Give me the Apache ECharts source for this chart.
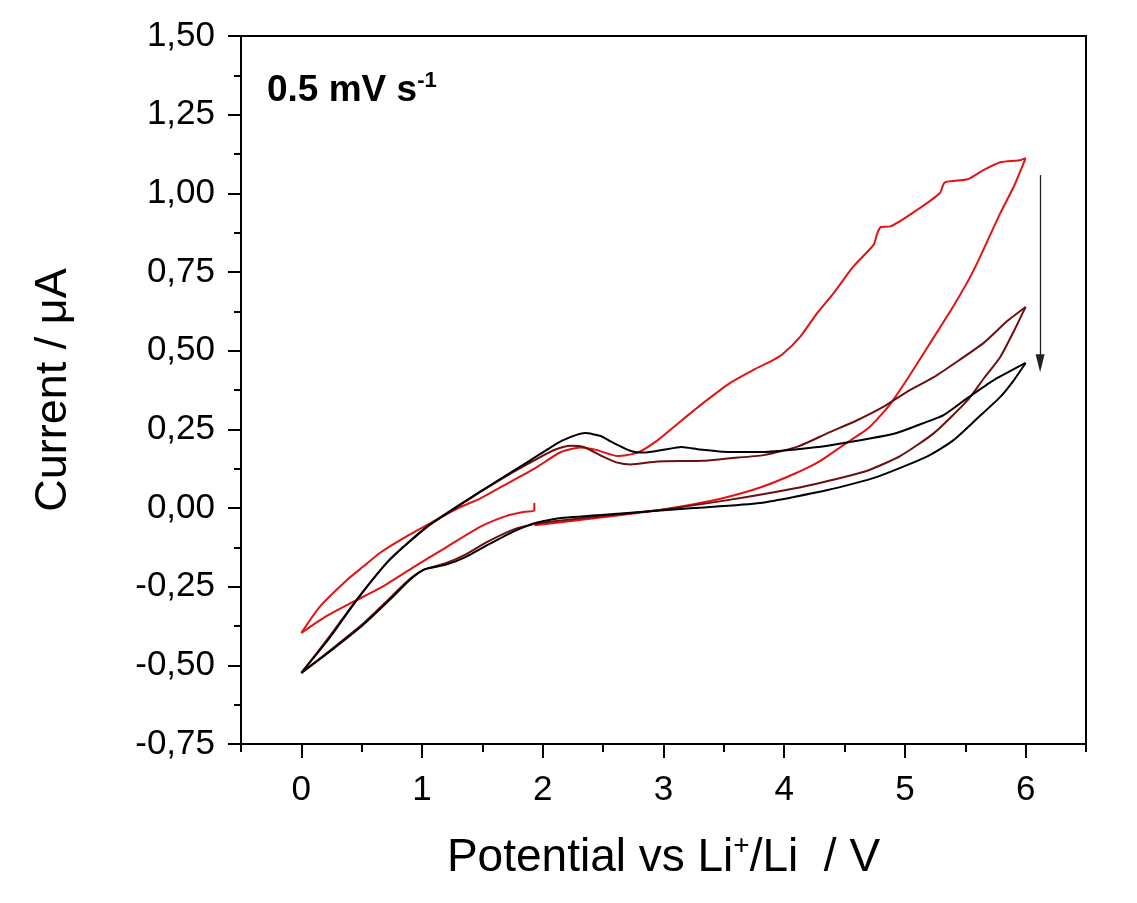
<!DOCTYPE html>
<html lang="en">
<head>
    <meta charset="UTF-8">
    <title>CV 0.5 mV/s</title>
    <script src="https://cdn.jsdelivr.net/npm/echarts@6/dist/echarts.min.js"></script>
    <style>
        html, body { margin: 0; padding: 0; background: #fff; }
        #main { width: 1137px; height: 903px; }
    </style>
</head>
<body>
    <div id="main"></div>
    <script type="text/javascript">
        // axis ticks
        var xMajor = [0, 1, 2, 3, 4, 5, 6];

        // cycle 1 (red): OCV -> 0 V, 0 -> 6 V, 6 V -> OCV
        var red1Down = [[1.93, 0.016], [1.93, -0.008], [1.85, -0.012], [1.70, -0.025], [1.48, -0.060], [1.20, -0.125],
            [0.93, -0.188], [0.65, -0.255], [0.42, -0.300], [0.20, -0.345], [0, -0.397]];
        var red1Up = [[0, -0.397], [0.15, -0.315], [0.38, -0.228], [0.51, -0.187], [0.65, -0.143], [0.85, -0.095],
            [1.07, -0.048], [1.30, 0.0], [1.48, 0.03], [1.67, 0.07], [1.93, 0.125], [2.15, 0.178], [2.31, 0.192],
            [2.45, 0.184], [2.62, 0.165], [2.78, 0.175], [2.95, 0.215], [3.14, 0.275], [3.33, 0.334], [3.55, 0.397],
            [3.75, 0.440], [3.90, 0.468], [3.99, 0.490], [4.13, 0.543], [4.27, 0.618], [4.41, 0.683], [4.57, 0.766],
            [4.74, 0.836], [4.77, 0.872], [4.80, 0.893], [4.88, 0.895], [5.10, 0.947], [5.29, 1.001], [5.33, 1.035],
            [5.52, 1.045], [5.65, 1.074], [5.79, 1.099], [5.95, 1.105], [6, 1.112]];
        var red1Back = [[6, 1.112], [5.90, 1.02], [5.79, 0.937], [5.57, 0.756], [5.40, 0.64], [5.24, 0.543],
            [5.02, 0.410], [4.86, 0.321], [4.70, 0.255], [4.49, 0.200], [4.30, 0.150], [4.08, 0.108], [3.80, 0.065],
            [3.53, 0.035], [3.25, 0.012], [2.97, -0.006], [2.60, -0.025], [2.15, -0.045], [1.93, -0.055]];

        // cycle 2 (dark red)
        var dark2Down = [[1.93, -0.050], [1.76, -0.068], [1.54, -0.108], [1.35, -0.150], [1.20, -0.175], [1.02, -0.195],
            [0.90, -0.225], [0.75, -0.280], [0.51, -0.368], [0.24, -0.452], [0, -0.524]];
        var dark2Up = [[0, -0.524], [0.24, -0.405], [0.46, -0.290], [0.73, -0.165], [1.04, -0.060], [1.29, 0.003],
            [1.48, 0.050], [1.75, 0.113], [1.96, 0.158], [2.10, 0.185], [2.23, 0.198], [2.34, 0.194], [2.50, 0.163],
            [2.61, 0.145], [2.73, 0.138], [2.95, 0.148], [3.33, 0.150], [3.55, 0.158], [3.83, 0.168], [4.11, 0.195],
            [4.36, 0.238], [4.60, 0.278], [4.82, 0.321], [5.02, 0.37], [5.24, 0.416], [5.45, 0.47], [5.65, 0.524],
            [5.85, 0.595], [6, 0.639]];
        var dark2Back = [[6, 0.639], [5.90, 0.56], [5.79, 0.480], [5.65, 0.41], [5.52, 0.343], [5.24, 0.238],
            [4.96, 0.165], [4.70, 0.120], [4.49, 0.098], [4.08, 0.062], [3.53, 0.025], [2.97, -0.006], [2.50, -0.025],
            [2.15, -0.040], [1.93, -0.050]];

        // cycle 3 (black)
        var black3Down = [[1.93, -0.048], [1.76, -0.074], [1.54, -0.118], [1.35, -0.158], [1.20, -0.180], [1.02, -0.195],
            [0.90, -0.228], [0.75, -0.285], [0.51, -0.372], [0.24, -0.455], [0, -0.524]];
        var black3Up = [[0, -0.524], [0.24, -0.410], [0.46, -0.292], [0.73, -0.165], [1.04, -0.060], [1.29, 0.005],
            [1.48, 0.052], [1.61, 0.083], [1.89, 0.150], [2.03, 0.184], [2.16, 0.214], [2.35, 0.238], [2.48, 0.229],
            [2.57, 0.210], [2.73, 0.181], [2.84, 0.176], [3.00, 0.185], [3.15, 0.194], [3.30, 0.186], [3.55, 0.178],
            [3.82, 0.178], [4.36, 0.198], [4.90, 0.235], [5.10, 0.262], [5.32, 0.295], [5.52, 0.350], [5.73, 0.405],
            [6, 0.461]];
        var black3Back = [[6, 0.461], [5.90, 0.405], [5.79, 0.353], [5.60, 0.285], [5.40, 0.215], [5.19, 0.165],
            [4.77, 0.099], [4.36, 0.057], [3.80, 0.016], [3.25, 0.0], [2.70, -0.016], [2.15, -0.032], [1.93, -0.048]];

        // arrow showing the cycle order
        var arrowPath = [[6.12, 1.058], [6.12, 0.46]];

        var RED = '#e41212', DARK = '#6e0f0f', BLACK = '#000000';
        var FONT = 'Liberation Sans, Arial, sans-serif';

        function branch(data, color, extra) {
            var s = {
                type: 'line',
                data: data,
                showSymbol: false,
                symbol: 'none',
                smooth: 0.2,
                lineStyle: { color: color, width: 2 },
                silent: true
            };
            return Object.assign(s, extra || {});
        }

        var myChart = echarts.init(document.getElementById('main'));

        var option = {
            animation: false,
            backgroundColor: '#ffffff',
            title: {
                text: '{a|0.5 mV s}{b|-1}',
                left: 267,
                top: 70,
                padding: 0,
                textStyle: {
                    rich: {
                        a: { fontFamily: FONT, fontWeight: 'bold', fontSize: 37, color: '#000', lineHeight: 42 },
                        b: { fontFamily: FONT, fontWeight: 'bold', fontSize: 22, color: '#000', verticalAlign: 'top', lineHeight: 42 }
                    }
                }
            },
            grid: {
                left: 241,
                right: 51,
                top: 36,
                bottom: 159,
                show: true,
                borderColor: '#000',
                borderWidth: 2,
                backgroundColor: 'transparent'
            },
            xAxis: [{
                type: 'value',
                position: 'bottom',
                min: -0.5,
                max: 6.5,
                interval: 0.5,
                axisLine: { onZero: false, lineStyle: { color: '#000', width: 2 } },
                axisTick: { length: 8, lineStyle: { color: '#000', width: 2 } },
                axisLabel: { show: false },
                splitLine: { show: false }
            }, {
                type: 'value',
                position: 'bottom',
                min: -0.5,
                max: 6.5,
                interval: 0.5,
                axisLine: { show: false, onZero: false },
                axisTick: { customValues: xMajor, length: 14, lineStyle: { color: '#000', width: 2 } },
                axisLabel: { customValues: xMajor, margin: 29, fontFamily: FONT, fontSize: 35, color: '#000' },
                splitLine: { show: false },
                name: 'Potential vs Li{s|+}/Li  / V',
                nameLocation: 'middle',
                nameGap: 88,
                nameTextStyle: {
                    fontFamily: FONT, fontSize: 46, color: '#000',
                    rich: {
                        s: { fontFamily: FONT, fontSize: 28, color: '#000', verticalAlign: 'top', lineHeight: 52 }
                    }
                }
            }],
            yAxis: [{
                type: 'value',
                min: -0.75,
                max: 1.5,
                interval: 0.25,
                axisLine: { show: true, onZero: false, lineStyle: { color: '#000', width: 2 } },
                axisTick: { show: true, length: 13, lineStyle: { color: '#000', width: 2 } },
                minorTick: { show: true, splitNumber: 2, length: 7, lineStyle: { color: '#000', width: 2 } },
                axisLabel: {
                    margin: 26, fontFamily: FONT, fontSize: 35, color: '#000',
                    formatter: function (v) { return v.toFixed(2).replace('.', ','); }
                },
                splitLine: { show: false },
                name: 'Current / μA',
                nameLocation: 'middle',
                nameGap: 165,
                nameTextStyle: { fontFamily: FONT, fontSize: 45, color: '#000' }
            }],
            series: [
                branch(red1Down, RED),
                branch(red1Up, RED),
                branch(red1Back, RED),
                branch(dark2Down, DARK),
                branch(dark2Up, DARK),
                branch(dark2Back, DARK),
                branch(black3Down, BLACK),
                branch(black3Up, BLACK),
                branch(black3Back, BLACK, {
                    markLine: {
                        silent: true,
                        symbol: ['none', 'triangle'],
                        symbolSize: [9, 18],
                        label: { show: false },
                        lineStyle: { color: '#222', width: 1.3, type: 'solid' },
                        data: [[{ coord: arrowPath[0] }, { coord: arrowPath[1] }]]
                    }
                })
            ]
        };

        myChart.setOption(option);
    </script>
</body>
</html>
